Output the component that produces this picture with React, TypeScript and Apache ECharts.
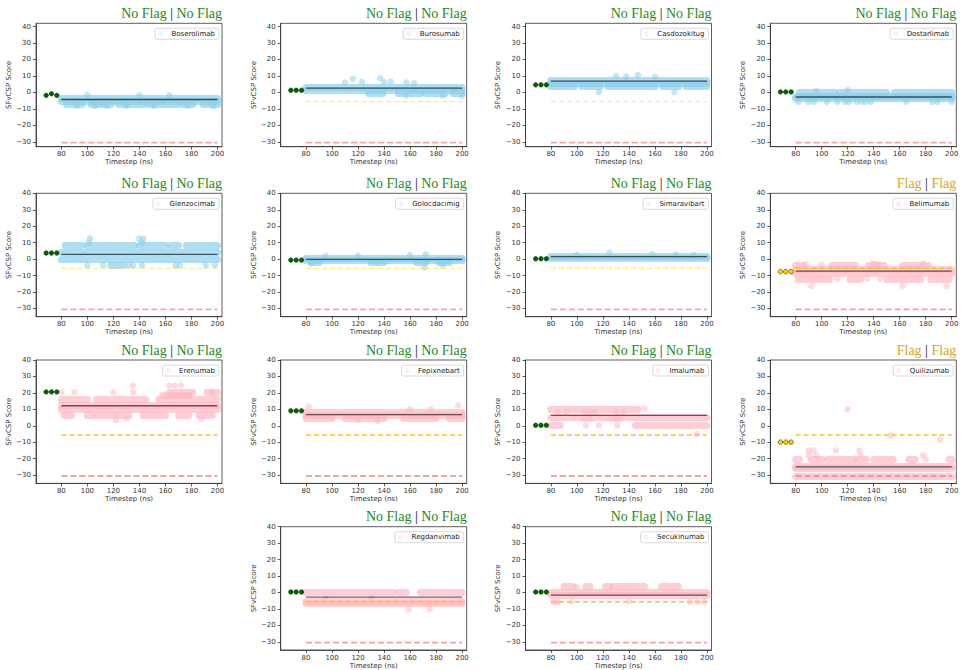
import { useEffect, useRef } from 'react';
import * as echarts from 'echarts';

// ---------- data ----------
const antibodyNames = [
  'Boserolimab', 'Burosumab', 'Casdozokitug', 'Dostarlimab',
  'Glenzocimab', 'Golocdacimig', 'Simaravibart', 'Belimumab',
  'Erenumab', 'Fepixnebart', 'Imalumab', 'Quilizumab',
  'Regdanvimab', 'Secukinumab',
];
const flagLabels = [
  'No Flag', 'No Flag', 'No Flag', 'No Flag',
  'No Flag', 'No Flag', 'No Flag', 'Flag',
  'No Flag', 'No Flag', 'No Flag', 'Flag',
  'No Flag', 'No Flag',
];
const colorGroups = [
  'blue', 'blue', 'blue', 'blue', 'blue', 'blue', 'blue',
  'pink', 'pink', 'pink', 'pink', 'pink', 'pink', 'pink',
];
const meanScores = [-4.3, 2.6, 6.8, -2.8, 2.9, -0.2, 1.5, -7.3, 12.2, 6.8, 6.3, -25, -2.8, -1.6];
const startTimes = [68.3, 72.4, 76.5];
const startScores = [
  [-1.8, -0.8, -1.8], [1.3, 1.3, 1.3], [4.6, 4.6, 4.6], [0.3, 0.3, 0.3],
  [3.7, 3.7, 3.7], [-0.6, -0.6, -0.6], [0.2, 0.2, 0.2], [-7.6, -7.6, -7.6],
  [20.6, 20.6, 20.6], [9.1, 9.1, 9.1], [0.3, 0.3, 0.3], [-9.9, -9.9, -9.9],
  [0.3, 0.3, 0.3], [0.3, 0.3, 0.3],
];
const xTicks = [80, 100, 120, 140, 160, 180, 200];
const yTicks = [-30, -20, -10, 0, 10, 20, 30, 40];
const yellowThreshold = -5.6;
const redThreshold = -30.5;
const timeStart = 80;
const timeEnd = 200;

// dense runs of points: [fromTime, toTime, score]
const boserolimabRows = [[80, 200, -3.3], [80, 200, -5.4], [84, 96, -7.2], [103, 109, -7.2], [112, 118, -7.2], [124, 143, -7.2], [147, 170, -7.2], [174, 181, -7.2], [189, 200, -7.2]];
const boserolimabPts = [[92, -8.3], [106, -8.3], [115, -8.3], [130, -8.3], [151, -8.3], [177, -8.3], [197, -8.5], [100, -1.6], [140, -1.8], [163, -1.7]];
const burosumabRows = [[80, 200, 3.4], [80, 200, 1.6], [128, 139, -0.4], [151, 168, -0.4], [172, 187, -0.4], [193, 200, -0.4]];
const burosumabPts = [[116, 8.2], [137, 8.6], [123, 6.4], [140, 6.2], [145, 6.6], [157, 6], [163, 5.6], [110, 6], [157, -1.8], [185, -2], [200, -2]];
const casdozokitugRows = [[80, 200, 7.6], [80, 200, 5.6], [80, 98, 3.6], [104, 118, 3.6], [124, 160, 3.6], [166, 178, 3.6], [184, 200, 3.6]];
const casdozokitugPts = [[117, 0.3], [175, 0.3], [130, 10], [147, 10.5], [138, 9.6], [160, 9.5]];
const dostarlimabRows = [[80, 200, -2.4], [80, 200, -3.6], [83, 110, 0.2], [114, 150, 0.2], [156, 200, 0.2]];
const dostarlimabPts = [[82, -5.8], [90, -5.8], [94, -5.8], [104, -5.8], [112, -5.8], [118, -5.8], [121, -5.8], [127, -5.8], [131, -5.8], [134, -5.8], [138, -5.8], [165, -5.8], [185, -5.8], [189, -5.8], [200, -5.8], [120, 1.5], [96, 1]];
const glenzocimabRows = [[80, 200, 4.2], [80, 200, 0.2], [83, 96, 8.6], [100, 136, 8.6], [140, 160, 8.6], [164, 170, 8.6], [176, 200, 8.6], [118, 128, -3.8]];
const glenzocimabPts = [[100, -3.8], [112, -3.8], [132, -3.8], [135, -3.8], [142, -3.8], [168, -3.8], [171, -3.8], [191, -3.8], [198, -3.8], [102, 12.5], [140, 12.3], [143, 12.3], [101, 10], [142, 10]];
const golocdacimigRows = [[80, 200, 0.7], [80, 200, -0.9], [84, 90, -2], [130, 140, -2], [165, 172, -2], [182, 190, -2]];
const golocdacimigPts = [[171, -5], [185, -3.8], [172, 3], [160, 2.5], [120, 2], [84, -2.6], [95, 2]];
const simaravibartRows = [[80, 200, 1.6], [80, 200, 0.5]];
const simaravibartPts = [[125, 4], [158, 3], [176, 2.8], [190, 2.5], [100, 2.6]];
const belimumabRows = [[80, 200, -6.4], [80, 200, -8.3], [80, 86, -4], [108, 126, -4], [136, 148, -4], [162, 182, -4], [82, 96, -12], [100, 106, -12], [122, 130, -12], [150, 176, -12], [184, 198, -12]];
const belimumabPts = [[140, -2.6], [143, -3], [178, -2.6], [88, -3], [100, -3.4], [112, -12], [135, -12], [145, -12], [92, -16.4], [162, -16.4], [196, -16.4]];
const erenumabRows = [[80, 200, 12.3], [80, 200, 9.8], [80, 100, 16.3], [107, 145, 16.3], [155, 200, 16.3], [158, 178, 18.4], [163, 181, 20.5], [192, 200, 20.5], [82, 88, 6.4], [100, 104, 6.4], [108, 120, 6.4], [124, 132, 6.4], [143, 160, 6.4], [170, 178, 6.4], [186, 196, 6.4]];
const erenumabPts = [[80, 20.5], [90, 20.5], [120, 20.5], [135, 20.5], [196, 20.5], [135, 24.5], [163, 24.5], [167, 24.5], [172, 24.5], [122, 3.5], [188, 4.3], [130, 4.5]];
const fepixnebartRows = [[80, 200, 8.2], [80, 200, 6.3], [80, 100, 4.8], [110, 140, 4.5], [155, 180, 4.8], [190, 200, 4.5]];
const fepixnebartPts = [[82, 11.5], [197, 12.5], [135, 3], [120, 3.5], [160, 10], [176, 10]];
const imalumabRows = [[80, 147, 10.3], [80, 200, 5.2], [80, 87, 0.2], [145, 200, 0.2]];
const imalumabPts = [[85, 8.4], [92, 8.4], [106, 8.4], [110, 8.4], [114, 8.4], [130, 8.4], [136, 8.4], [106, 4], [110, 4], [126, 4], [130, 4], [133, 4], [107, 0.2], [117, 0.2], [131, 0.2], [152, 10.3], [192, -5]];
const quilizumabRows = [[80, 200, -24.3], [80, 200, -26], [80, 200, -30.4], [80, 83, -20.3], [92, 100, -20.3], [104, 125, -20.3], [128, 134, -20.3], [140, 155, -20.3], [167, 172, -20.3], [198, 200, -20.3]];
const quilizumabPts = [[90, -18], [96, -18], [130, -18], [178, -18], [90, -15], [94, -15], [111, -15], [129, -15], [120, 10], [153, -6], [191, -8.5], [180, -20.5]];
const regdanvimabRows = [[80, 147, 0.3], [151, 157, 0.3], [168, 200, 0.3], [80, 200, -5.2], [80, 200, -6.8]];
const regdanvimabPts = [[159, -10], [175, -10], [130, -3.5], [95, -3.8]];
const secukinumabRows = [[80, 200, 0.3], [80, 200, -2], [90, 97, 3.5], [107, 110, 3.5], [122, 125, 3.5], [128, 152, 3.5], [165, 178, 3.5]];
const secukinumabPts = [[100, 3.5], [82, -5.8], [84, -5.8], [86, -5.8], [96, -5.5], [140, -5.5], [187, -5.8], [193, -5.8], [198, -5.8]];

const rowsByPanel = [
  boserolimabRows, burosumabRows, casdozokitugRows, dostarlimabRows,
  glenzocimabRows, golocdacimigRows, simaravibartRows, belimumabRows,
  erenumabRows, fepixnebartRows, imalumabRows, quilizumabRows,
  regdanvimabRows, secukinumabRows,
];
const ptsByPanel = [
  boserolimabPts, burosumabPts, casdozokitugPts, dostarlimabPts,
  glenzocimabPts, golocdacimigPts, simaravibartPts, belimumabPts,
  erenumabPts, fepixnebartPts, imalumabPts, quilizumabPts,
  regdanvimabPts, secukinumabPts,
];

// ---------- layout / style ----------
const W = 963;
const H = 670;
const COL_LEFT = [36, 280.7, 525.5, 770.3];
const ROW_TOP = [23.3, 193.3, 360, 526.7];
const PANEL_W = 186;
const PANEL_H = 123.4;
const PANEL_POS = [
  [0, 0], [0, 1], [0, 2], [0, 3],
  [1, 0], [1, 1], [1, 2], [1, 3],
  [2, 0], [2, 1], [2, 2], [2, 3],
  [3, 1], [3, 2],
];
const SANS = 'DejaVu Sans';
const SERIF = 'Liberation Serif';
const TXT = '#333';

const STYLE: Record<string, any> = {
  blue: { c: '#87CEEB', legend: 'rgba(135,206,235,0.35)', yellow: 'rgba(255,215,0,0.5)', yw: 1.3, red: 'rgba(240,128,128,0.7)', mean: 0.62 },
  pink: { c: '#FFB6C1', legend: 'rgba(255,182,193,0.5)', yellow: '#FFC125', yw: 1.5, red: 'rgba(240,128,128,0.75)', mean: 0.6 },
};

const minus = (v: number) => String(v).replace('-', '\u2212');

function buildOption() {
  const grid: any[] = [];
  const xAxis: any[] = [];
  const yAxis: any[] = [];
  const title: any[] = [];
  const legend: any[] = [];
  const series: any[] = [];

  antibodyNames.forEach((name, i) => {
    const [r, c] = PANEL_POS[i];
    const left = COL_LEFT[c];
    const top = ROW_TOP[r];
    const right = W - (left + PANEL_W);
    const st = STYLE[colorGroups[i]];
    const flag = flagLabels[i];
    const isFlag = flag === 'Flag';

    grid.push({ left, top, width: PANEL_W, height: PANEL_H, show: true, borderColor: TXT, borderWidth: 0.8, containLabel: false });
    xAxis.push({
      gridIndex: i, type: 'value', min: 60.5, max: 203.5,
      axisLine: { show: true, onZero: false, lineStyle: { color: TXT, width: 0.8 } },
      axisTick: { show: true, length: 3, customValues: xTicks, lineStyle: { color: TXT, width: 0.8 } },
      axisLabel: { customValues: xTicks, fontSize: 7, color: TXT, margin: 4, fontFamily: SANS },
      splitLine: { show: false },
      name: 'Timestep (ns)', nameLocation: 'middle', nameGap: 12,
      nameTextStyle: { fontSize: 7, color: TXT, fontFamily: SANS },
    });
    yAxis.push({
      gridIndex: i, type: 'value',
      min: r === 0 ? -33 : -35, max: r === 0 ? 42 : 40,
      axisLine: { show: true, onZero: false, lineStyle: { color: TXT, width: 0.8 } },
      axisTick: { show: true, length: 3, customValues: yTicks, lineStyle: { color: TXT, width: 0.8 } },
      axisLabel: { customValues: yTicks, fontSize: 7, color: TXT, margin: 5, fontFamily: SANS, formatter: minus },
      splitLine: { show: false },
      name: 'SFvCSP Score', nameLocation: 'middle', nameGap: 18, nameRotate: 90,
      nameTextStyle: { fontSize: 7, color: TXT, fontFamily: SANS },
    });
    const tag = isFlag ? 'f' : 'g';
    title.push({
      text: `{${tag}|${flag}} {k||} {${tag}|${flag}}`,
      right, top: top - 17, padding: 0,
      textStyle: {
        fontSize: 14, fontFamily: SERIF, fontWeight: 'normal', color: '#000',
        rich: {
          g: { color: '#228B22', fontSize: 14, fontFamily: SERIF },
          f: { color: '#DAA520', fontSize: 14, fontFamily: SERIF },
          k: { color: '#111', fontSize: 14, fontFamily: SERIF },
        },
      },
    });
    legend.push({
      data: [{ name, icon: 'circle', itemStyle: { color: st.legend } }],
      right: right + 3, top: top + 5, orient: 'horizontal',
      itemWidth: 12, itemHeight: 5, padding: [2, 4, 2, 3],
      borderColor: '#cfcfcf', borderWidth: 0.8, borderRadius: 2, backgroundColor: '#fff',
      textStyle: { fontSize: 7, color: '#222', fontFamily: SANS },
      selectedMode: false, z: 20,
    });

    const axes = { xAxisIndex: i, yAxisIndex: i };
    series.push({
      type: 'lines', coordinateSystem: 'cartesian2d', ...axes, silent: true, z: 1,
      data: rowsByPanel[i].map(([a, b, y]) => ({ coords: [[a, y], [b, y]] })),
      lineStyle: { color: st.c, width: 7, opacity: 0.68, cap: 'round' },
    });
    series.push({
      name, type: 'scatter', ...axes, silent: true, z: 1,
      data: ptsByPanel[i], symbolSize: 6.5,
      itemStyle: { color: st.c, opacity: 0.5 },
    });
    series.push({
      type: 'line', ...axes, silent: true, z: 5, symbol: 'none', showSymbol: false,
      data: [[timeStart, meanScores[i]], [timeEnd, meanScores[i]]],
      lineStyle: { color: '#000', width: 1.3, opacity: st.mean },
    });
    series.push({
      type: 'line', ...axes, silent: true, z: 8, symbol: 'none', showSymbol: false,
      data: [[timeStart, yellowThreshold], [timeEnd, yellowThreshold]],
      lineStyle: { color: st.yellow, width: st.yw, type: [5, 3] },
    });
    series.push({
      type: 'line', ...axes, silent: true, z: 8, symbol: 'none', showSymbol: false,
      data: [[timeStart, redThreshold], [timeEnd, redThreshold]],
      lineStyle: { color: st.red, width: 1.8, type: [6, 3] },
    });
    series.push({
      type: 'scatter', ...axes, silent: true, z: 9,
      data: startTimes.map((t, k) => [t, startScores[i][k]]),
      symbolSize: 4.5,
      itemStyle: isFlag
        ? { color: '#FFD700', borderColor: '#6b5200', borderWidth: 0.8, opacity: 1 }
        : { color: '#006400', borderColor: '#003a00', borderWidth: 0.6, opacity: 1 },
    });
  });

  return { animation: false, backgroundColor: '#fff', grid, xAxis, yAxis, title, legend, series };
}

export default function App() {
  const ref = useRef<HTMLDivElement>(null);
  useEffect(() => {
    if (!ref.current) return;
    const chart = echarts.init(ref.current, null, { renderer: 'svg' });
    chart.setOption(buildOption() as any);
    return () => chart.dispose();
  }, []);
  return <div ref={ref} style={{ position: 'fixed', left: 0, top: 0, width: W, height: H, background: '#fff' }} />;
}
